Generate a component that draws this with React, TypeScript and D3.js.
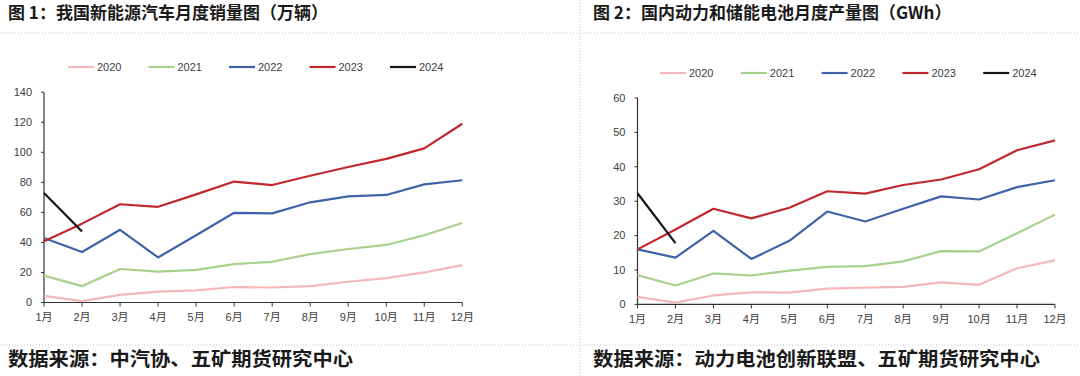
import React from "react";
import * as d3 from "d3";

const months = ["1月", "2月", "3月", "4月", "5月", "6月", "7月", "8月", "9月", "10月", "11月", "12月"];
const years = ["2020", "2021", "2022", "2023", "2024"];
const colors = ["#F4B8BA", "#A9D18E", "#3F62A8", "#C0282E", "#151515"];

// Chart 1: NEV monthly sales (10k units)
const sales2020 = [4.4, 0.9, 5.1, 7.2, 8.1, 10.3, 10.0, 10.9, 13.8, 16.2, 20.0, 24.9];
const sales2021 = [17.9, 10.9, 22.3, 20.5, 21.7, 25.6, 27.1, 32.2, 35.6, 38.3, 44.8, 52.9];
const sales2022 = [43.0, 33.6, 48.4, 30.0, 44.8, 59.7, 59.3, 66.7, 70.6, 71.6, 78.6, 81.4];
const sales2023 = [40.8, 52.5, 65.4, 63.7, 72.0, 80.5, 78.2, 84.4, 90.2, 95.6, 102.6, 119.0];
const sales2024 = [72.9, 47.3];

// Chart 2: power & storage battery monthly output (GWh)
const batt2020 = [2.2, 0.5, 2.6, 3.5, 3.4, 4.6, 4.9, 5.1, 6.4, 5.7, 10.5, 12.8];
const batt2021 = [8.5, 5.5, 9.0, 8.4, 9.8, 10.9, 11.1, 12.5, 15.5, 15.4, 20.7, 26.1];
const batt2022 = [16.0, 13.6, 21.4, 13.2, 18.5, 27.0, 24.1, 27.8, 31.4, 30.5, 34.1, 36.1];
const batt2023 = [16.0, 21.8, 27.8, 25.0, 28.1, 32.9, 32.2, 34.7, 36.3, 39.3, 44.8, 47.7];
const batt2024 = [32.3, 17.8];

const yTicks1 = [0, 20, 40, 60, 80, 100, 120, 140];
const yTicks2 = [0, 10, 20, 30, 40, 50, 60];

const title1 = "图 1：我国新能源汽车月度销量图（万辆）";
const title2 = "图 2：国内动力和储能电池月度产量图（GWh）";
const source1 = "数据来源：中汽协、五矿期货研究中心";
const source2 = "数据来源：动力电池创新联盟、五矿期货研究中心";

const labelFont = "'Liberation Sans', Arial, 'Noto Sans CJK SC', sans-serif";
const titleFont = "'Noto Sans CJK SC', 'Noto Sans', sans-serif";

type ChartProps = {
  series: number[][];
  yMax: number;
  yTicks: number[];
  xRange: [number, number];
  yRange: [number, number];
  legendY: number;
  legendX0: number;
  legendStep: number;
};

function LineChart({ series, yMax, yTicks, xRange, yRange, legendY, legendX0, legendStep }: ChartProps) {
  const x = d3.scalePoint<string>().domain(months).range(xRange);
  const y = d3.scaleLinear().domain([0, yMax]).range(yRange);
  const line = d3
    .line<number>()
    .x((_, i) => x(months[i]) as number)
    .y((d) => y(d));
  const x0 = xRange[0];
  const x1 = xRange[1];
  return (
    <g>
      {/* legend */}
      {years.map((yr, i) => {
        const lx = legendX0 + i * legendStep;
        return (
          <g key={yr}>
            <line x1={lx} x2={lx + 26} y1={legendY} y2={legendY} stroke={colors[i]} strokeWidth={2.2} />
            <text x={lx + 29} y={legendY} dy="0.35em" fontSize={11} fill="#404040" fontFamily={labelFont}>
              {yr}
            </text>
          </g>
        );
      })}
      {/* y axis */}
      <line x1={x0} x2={x0} y1={y(0)} y2={y(yMax)} stroke="#333" strokeWidth={1.2} />
      {yTicks.map((t) => (
        <g key={t}>
          <line x1={x0 - 3} x2={x0} y1={y(t)} y2={y(t)} stroke="#333" strokeWidth={1} />
          <text x={x0 - 12} y={y(t)} dy="0.35em" textAnchor="end" fontSize={11} fill="#404040" fontFamily={labelFont}>
            {t}
          </text>
        </g>
      ))}
      {/* x axis */}
      <line x1={x0} x2={x1} y1={y(0)} y2={y(0)} stroke="#333" strokeWidth={1.2} />
      {months.map((m) => (
        <g key={m}>
          <line x1={x(m)} x2={x(m)} y1={y(0)} y2={y(0) + 4} stroke="#333" strokeWidth={1} />
          <text x={x(m)} y={y(0) + 15} dy="0.35em" textAnchor="middle" fontSize={11} fill="#404040" fontFamily={labelFont}>
            {m}
          </text>
        </g>
      ))}
      {/* lines */}
      {series.map((s, i) => (
        <path key={i} d={line(s) || ""} fill="none" stroke={colors[i]} strokeWidth={2.2} strokeLinejoin="round" />
      ))}
    </g>
  );
}

export default function App() {
  return (
    <svg
      width={1080}
      height={376}
      style={{ position: "absolute", left: 0, top: 0, display: "block", background: "#fff" }}
    >
      <rect x={0} y={0} width={1080} height={376} fill="#fff" />
      <line x1={0} x2={1080} y1={33} y2={33} stroke="#c8c8c8" strokeWidth={1} strokeDasharray="1,2" />
      <line x1={0} x2={1080} y1={345} y2={345} stroke="#c8c8c8" strokeWidth={1} strokeDasharray="1,2" />
      <line x1={580} x2={580} y1={0} y2={376} stroke="#c8c8c8" strokeWidth={1} strokeDasharray="1,2" />
      <text x={8} y={13} dy="0.35em" fontSize={17} fontWeight="bold" fill="#1a1a1a" fontFamily={titleFont}>
        {title1}
      </text>
      <text x={593} y={13} dy="0.35em" fontSize={17} fontWeight="bold" fill="#1a1a1a" fontFamily={titleFont}>
        {title2}
      </text>
      <text
        x={8}
        y={359}
        dy="0.35em"
        fontSize={19}
        fontWeight="bold"
        fill="#1a1a1a"
        fontFamily={titleFont}
        textLength={345}
        lengthAdjust="spacingAndGlyphs"
      >
        {source1}
      </text>
      <text
        x={593}
        y={359}
        dy="0.35em"
        fontSize={19}
        fontWeight="bold"
        fill="#1a1a1a"
        fontFamily={titleFont}
        textLength={447}
        lengthAdjust="spacingAndGlyphs"
      >
        {source2}
      </text>
      <LineChart
        series={[sales2020, sales2021, sales2022, sales2023, sales2024]}
        yMax={140}
        yTicks={yTicks1}
        xRange={[44, 462.3]}
        yRange={[302.5, 92.2]}
        legendY={67}
        legendX0={68}
        legendStep={80.5}
      />
      <LineChart
        series={[batt2020, batt2021, batt2022, batt2023, batt2024]}
        yMax={60}
        yTicks={yTicks2}
        xRange={[637.5, 1055]}
        yRange={[304.4, 98]}
        legendY={73}
        legendX0={660}
        legendStep={80.8}
      />
    </svg>
  );
}
